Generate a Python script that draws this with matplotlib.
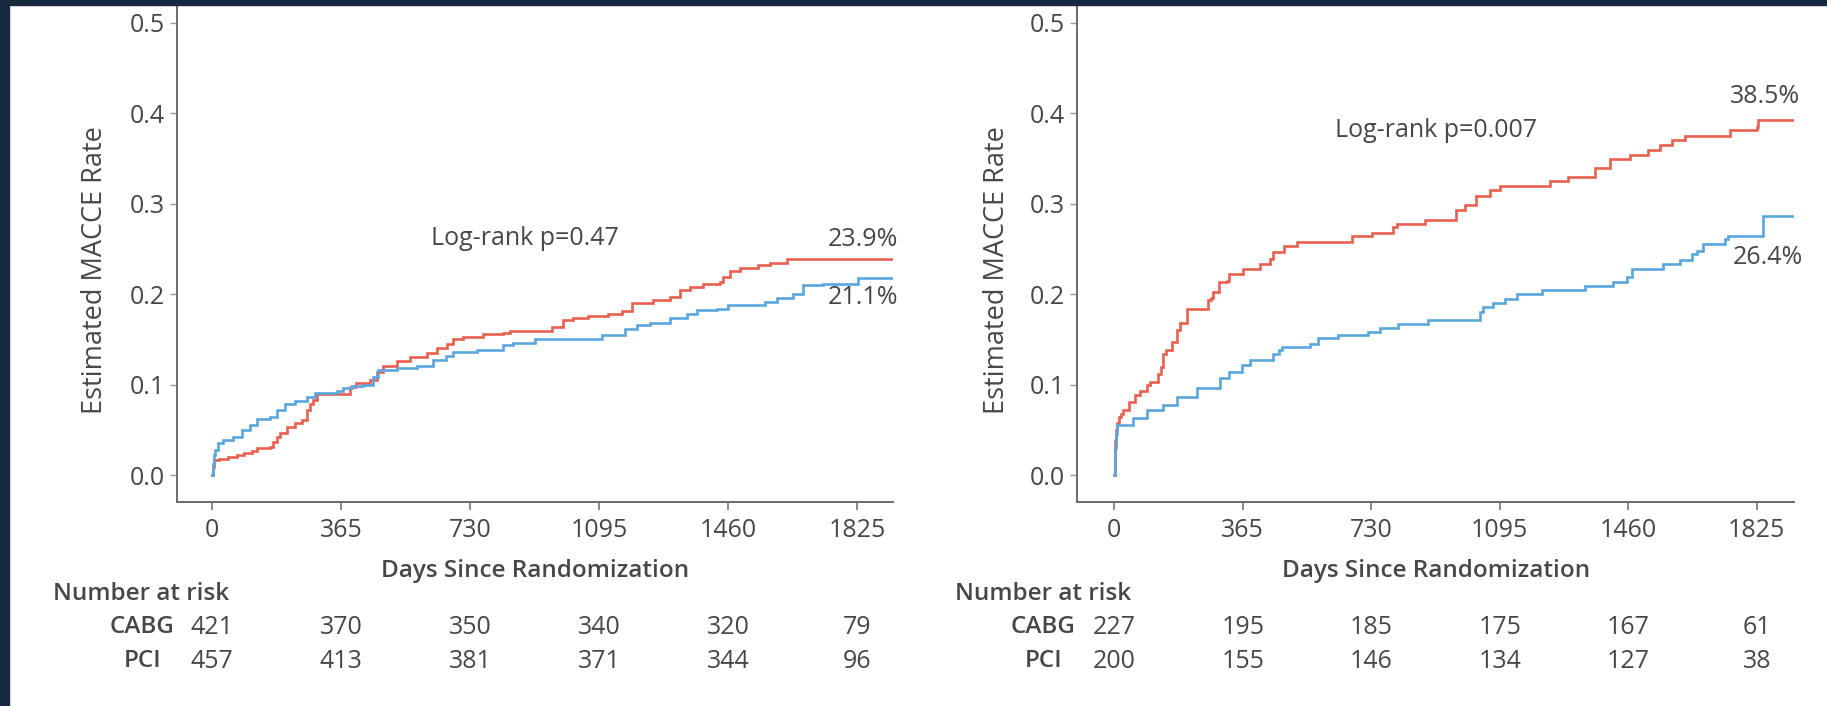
import matplotlib
matplotlib.use("Agg")
import matplotlib.pyplot as plt
from matplotlib.patches import Rectangle
from matplotlib.transforms import blended_transform_factory

plt.rcParams['font.family'] = ['Open Sans', 'DejaVu Sans']

# ---------------- data ----------------
tick_days = [0, 365, 730, 1095, 1460, 1825]

# Panel A: Kaplan-Meier cumulative MACCE (step points)
a_cabg_days = [0, 2, 5, 20, 45, 70, 90, 111, 126, 163, 173, 183, 192, 211, 235, 254, 267,
               276, 286, 295, 389, 408, 446, 465, 484, 522, 559, 607, 635, 663, 682, 710,
               767, 823, 842, 960, 993, 1021, 1063, 1120, 1158, 1187, 1248, 1295, 1323,
               1352, 1389, 1437, 1446, 1465, 1493, 1545, 1578, 1625, 1922]
a_cabg_rate = [0.0, 0.009, 0.0166, 0.018, 0.020, 0.022, 0.024, 0.026, 0.030, 0.031, 0.037,
               0.042, 0.046, 0.053, 0.057, 0.061, 0.072, 0.078, 0.083, 0.090, 0.0975, 0.102,
               0.105, 0.114, 0.121, 0.126, 0.131, 0.135, 0.140, 0.145, 0.150, 0.153, 0.156,
               0.157, 0.159, 0.164, 0.171, 0.174, 0.1755, 0.178, 0.181, 0.190, 0.193, 0.197,
               0.205, 0.208, 0.211, 0.213, 0.219, 0.226, 0.229, 0.232, 0.234, 0.239, 0.239]

a_pci_days = [0, 2, 4, 8, 17, 31, 59, 83, 107, 126, 163, 182, 206, 234, 267, 291, 352, 371,
              395, 427, 456, 470, 522, 578, 625, 660, 682, 750, 823, 852, 913, 1102, 1168,
              1201, 1239, 1295, 1342, 1371, 1427, 1460, 1564, 1597, 1644, 1672, 1729, 1828,
              1922]
a_pci_rate = [0.0, 0.012, 0.022, 0.028, 0.035, 0.0386, 0.042, 0.050, 0.055, 0.0615, 0.064,
              0.072, 0.078, 0.082, 0.086, 0.091, 0.093, 0.096, 0.0986, 0.100, 0.108, 0.116,
              0.118, 0.121, 0.127, 0.132, 0.136, 0.138, 0.1435, 0.146, 0.150, 0.1545, 0.161,
              0.1656, 0.168, 0.174, 0.178, 0.182, 0.184, 0.188, 0.191, 0.196, 0.2005, 0.2097,
              0.211, 0.218, 0.218]

# Panel B
b_cabg_days = [0, 1, 2, 3, 5, 7, 14, 20, 26, 43, 59, 73, 92, 101, 125, 132, 139, 147, 163,
               179, 187, 207, 267, 274, 281, 298, 319, 327, 366, 414, 442, 450, 482, 518, 674,
               731, 793, 802, 883, 971, 996, 1028, 1067, 1096, 1238, 1290, 1366, 1408, 1465,
               1517, 1550, 1583, 1621, 1749, 1825, 1829, 1929]
b_cabg_rate = [0.0, 0.012, 0.025, 0.038, 0.050, 0.057, 0.064, 0.068, 0.072, 0.081, 0.088,
               0.093, 0.099, 0.103, 0.112, 0.1195, 0.134, 0.138, 0.147, 0.160, 0.1675, 0.184,
               0.193, 0.196, 0.202, 0.213, 0.2146, 0.2226, 0.228, 0.2337, 0.239, 0.2465,
               0.253, 0.2575, 0.2638, 0.2675, 0.274, 0.278, 0.282, 0.2925, 0.299, 0.309,
               0.3146, 0.319, 0.325, 0.329, 0.339, 0.349, 0.354, 0.3594, 0.3653, 0.3705,
               0.3753, 0.381, 0.385, 0.393, 0.393]

b_pci_days = [0, 1, 2, 4, 7, 52, 94, 137, 179, 234, 300, 327, 362, 386, 452, 469, 476, 556,
              580, 636, 722, 755, 807, 892, 1040, 1048, 1077, 1110, 1143, 1214, 1337, 1418,
              1456, 1470, 1560, 1607, 1640, 1655, 1673, 1735, 1744, 1844, 1929]
b_pci_rate = [0.0, 0.015, 0.030, 0.045, 0.055, 0.0625, 0.0717, 0.0773, 0.0865, 0.0957,
              0.1067, 0.114, 0.1214, 0.127, 0.134, 0.138, 0.1416, 0.145, 0.151, 0.1545,
              0.158, 0.1626, 0.1674, 0.1718, 0.180, 0.186, 0.190, 0.195, 0.2005, 0.205,
              0.2093, 0.2134, 0.219, 0.228, 0.233, 0.238, 0.2447, 0.248, 0.2557, 0.261,
              0.264, 0.286, 0.286]

# 5-year estimates shown at the end of each curve
a_five_year = {'CABG': 0.239, 'PCI': 0.211}
b_five_year = {'CABG': 0.385, 'PCI': 0.264}

a_pvalue = "0.47"
b_pvalue = "0.007"

groups = ['CABG', 'PCI']
a_at_risk = {'CABG': [421, 370, 350, 340, 320, 79],
             'PCI': [457, 413, 381, 371, 344, 96]}
b_at_risk = {'CABG': [227, 195, 185, 175, 167, 61],
             'PCI': [200, 155, 146, 134, 127, 38]}

# ---------------- styling ----------------
W, H = 1827, 706
RED = '#e8604f'
BLUE = '#5aa6dd'
TXT = '#474747'
AXC = '#6a6a6a'
NAVY = '#16293e'

fig = plt.figure(figsize=(W / 100, H / 100), dpi=100)
fig.patch.set_facecolor('white')


def fx(px):
    return px / W


def fy(py):
    return 1 - py / H


def make_panel(left_px, right_px, xlim, cabg, pci, five, pval, pval_pos,
               lab_pos, at_risk, nar_x, grp_x, ylabel_x):
    ax = fig.add_axes([fx(left_px), fy(501.7), fx(right_px - left_px), (501.7 - 5) / H])
    ax.step(cabg[0], cabg[1], where='post', color=RED, lw=1.9, solid_joinstyle='miter')
    ax.step(pci[0], pci[1], where='post', color=BLUE, lw=1.9, solid_joinstyle='miter')
    ax.set_xlim(*xlim)
    ax.set_ylim(-0.0295, 0.5196)
    for s in ['top', 'right']:
        ax.spines[s].set_visible(False)
    for s in ['left', 'bottom']:
        ax.spines[s].set_color(AXC)
        ax.spines[s].set_linewidth(1.4)
    ax.set_xticks(tick_days)
    ax.set_xticklabels([str(d) for d in tick_days])
    yt = [0.0, 0.1, 0.2, 0.3, 0.4, 0.5]
    ax.set_yticks(yt)
    ax.set_yticklabels([f"{v:.1f}" for v in yt])
    ax.tick_params(axis='x', direction='out', length=5.8, width=1.1, color=AXC,
                   labelsize=18, labelcolor=TXT, pad=6)
    ax.tick_params(axis='y', direction='out', length=5.0, width=1.0, color='#9a9a9a',
                   labelsize=18, labelcolor=TXT, pad=4)
    ax.set_xlabel('Days Since Randomization', fontsize=17.5, fontweight='semibold',
                  color=TXT, labelpad=11.5)
    fig.text(fx(ylabel_x), fy(270), 'Estimated MACCE Rate', rotation=90, fontsize=19.5,
             color=TXT, ha='center', va='center')

    ax.text(pval_pos[0], pval_pos[1], f"Log-rank p={pval}", fontsize=18, color=TXT,
            ha='center', va='center')
    ax.text(lab_pos[0][0], lab_pos[0][1], f"{five['CABG'] * 100:.1f}%", fontsize=18,
            color=TXT, ha='right', va='center')
    ax.text(lab_pos[1][0], lab_pos[1][1], f"{five['PCI'] * 100:.1f}%", fontsize=18,
            color=TXT, ha='right', va='center')

    tr = blended_transform_factory(ax.transData, fig.transFigure)
    fig.text(fx(nar_x), fy(594), 'Number at risk', fontsize=17.5, fontweight='semibold',
             color=TXT, ha='left', va='center')
    for g, ypx in zip(groups, [627, 661]):
        fig.text(fx(grp_x), fy(ypx), g, fontsize=17.5, fontweight='semibold', color=TXT,
                 ha='center', va='center')
        for d, n in zip(tick_days, at_risk[g]):
            ax.text(d, fy(ypx), str(n), transform=tr, fontsize=18, color=TXT,
                    ha='center', va='center')
    return ax


make_panel(177.3, 892.7, (-99.0, 1925.2),
           (a_cabg_days, a_cabg_rate), (a_pci_days, a_pci_rate), a_five_year, a_pvalue,
           (885, 0.262), [(1940, 0.260), (1940, 0.1957)], a_at_risk,
           53, 142.5, 95)
make_panel(1077.3, 1794.0, (-105.1, 1931.0),
           (b_cabg_days, b_cabg_rate), (b_pci_days, b_pci_rate), b_five_year, b_pvalue,
           (914, 0.3814), [(1948, 0.4179), (1956, 0.241)], b_at_risk,
           955, 1043.3, 997)

# dark frame strips along the top and left edges
fig.patches.append(Rectangle((0, 0), fx(8.5), 1, transform=fig.transFigure,
                             color=NAVY, zorder=10))
fig.patches.append(Rectangle((0, fy(5)), 1, 5 / H, transform=fig.transFigure,
                             color=NAVY, zorder=10))

fig.savefig('out.png', dpi=100, facecolor='white')
